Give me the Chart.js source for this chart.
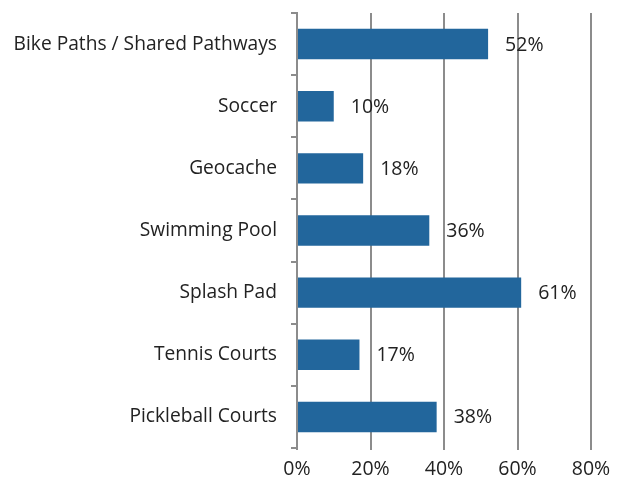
<!DOCTYPE html>
<html>
<head>
<meta charset="utf-8">
<script src="https://cdn.jsdelivr.net/npm/chart.js@4"></script>
<style>
  html, body { margin: 0; padding: 0; background: #fff; }
  #wrap { width: 622px; height: 487px; }
</style>
</head>
<body>
<div id="wrap"><canvas id="chart" width="622" height="487"></canvas></div>
<script>
const categories = ['Bike Paths / Shared Pathways', 'Soccer', 'Geocache', 'Swimming Pool', 'Splash Pad', 'Tennis Courts', 'Pickleball Courts'];
const shares = [52, 10, 18, 36, 61, 17, 38];
const xTicks = [0, 20, 40, 60, 80];

const FONT = "'Open Sans', 'Noto Sans', sans-serif";
const GRID = '#8c8c8c';

// value labels at the end of each bar
const barLabels = {
  id: 'barLabels',
  afterDatasetsDraw(chart) {
    const ctx = chart.ctx;
    const meta = chart.getDatasetMeta(0);
    ctx.save();
    ctx.font = '19.5px ' + FONT;
    ctx.fillStyle = '#222';
    ctx.textAlign = 'left';
    ctx.textBaseline = 'middle';
    meta.data.forEach((bar, i) => {
      ctx.fillText(shares[i] + '%', bar.x + 17, bar.y + 1);
    });
    ctx.restore();
  }
};

new Chart(document.getElementById('chart'), {
  type: 'bar',
  data: {
    labels: categories,
    datasets: [{
      data: shares,
      backgroundColor: '#22669c',
      borderWidth: 0,
      categoryPercentage: 1,
      barPercentage: 0.49
    }]
  },
  options: {
    indexAxis: 'y',
    responsive: false,
    animation: false,
    layout: { padding: { top: 13, right: 31, left: 0, bottom: 0 } },
    plugins: {
      legend: { display: false },
      tooltip: { enabled: false }
    },
    scales: {
      x: {
        min: 0,
        max: 80,
        afterBuildTicks: (scale) => { scale.ticks = xTicks.map(v => ({ value: v })); },
        afterFit: (scale) => { scale.height = 39; },
        border: { display: false },
        grid: { color: GRID, lineWidth: 2, drawTicks: true, tickLength: 2 },
        ticks: {
          color: '#222',
          padding: 8,
          font: { family: FONT, size: 19.5 },
          callback: (v) => v + '%'
        }
      },
      y: {
        afterFit: (scale) => {
          scale.width = 297;
          scale.paddingTop = 0;
          scale.paddingBottom = 0;
        },
        border: { color: GRID, width: 2 },
        grid: { drawOnChartArea: false, drawTicks: true, tickLength: 6, color: GRID, lineWidth: 2, offset: true },
        ticks: {
          color: '#222',
          padding: 14,
          font: { family: FONT, size: 19.2 }
        }
      }
    }
  },
  plugins: [barLabels]
});
</script>
</body>
</html>
